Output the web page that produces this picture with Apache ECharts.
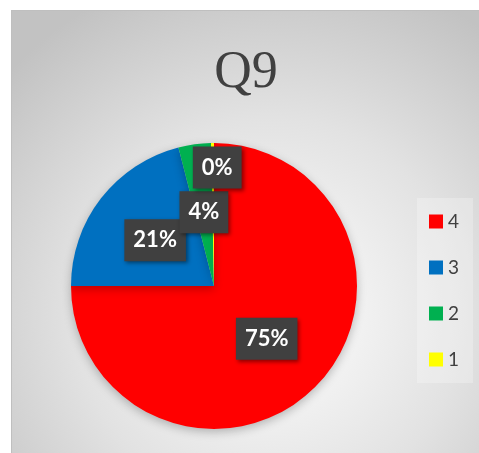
<!DOCTYPE html>
<html>
<head>
<meta charset="utf-8">
<script src="https://cdn.jsdelivr.net/npm/echarts@6/dist/echarts.min.js"></script>
<style>
html, body { margin: 0; padding: 0; background: #fff; }
#chart-q9 {
  position: absolute;
  left: 11px;
  top: 10px;
  width: 468px;
  height: 443px;
  border-left: 1px solid #bfbfbf;
  border-top: 1px solid #bfbfbf;
}
</style>
</head>
<body>
<div id='chart-q9'></div>
<script>
// answers to Q9, counts per rating
var categories = ['4', '3', '2', '1']
var counts = [225, 63, 11, 1]
var colors = ['#ff0000', '#0070c0', '#00b050', '#ffff00']

var pieData = []
for (var i = 0; i < categories.length; i++) {
  pieData.push({ name: categories[i], value: counts[i], itemStyle: { color: colors[i] } })
}
// the tiny slice has its label pushed outwards
pieData[3].label = { offset: [4, -44] }

var option = {
  backgroundColor: {
    type: 'radial',
    x: 0.55,
    y: 0.68,
    r: 0.8,
    colorStops: [
      { offset: 0, color: '#ffffff' },
      { offset: 0.55, color: '#e2e2e2' },
      { offset: 1, color: '#c2c2c2' }
    ]
  },
  title: {
    text: 'Q9',
    left: 'center',
    top: 31,
    textStyle: {
      fontFamily: 'Liberation Serif',
      fontWeight: 'normal',
      fontSize: 52,
      color: '#404040'
    }
  },
  legend: {
    orient: 'vertical',
    left: 405,
    top: 187,
    padding: [14, 14, 14, 12],
    backgroundColor: 'rgba(255,255,255,0.25)',
    itemWidth: 14,
    itemHeight: 14,
    itemGap: 27,
    icon: 'rect',
    data: categories,
    textStyle: {
      fontFamily: 'Lato',
      fontSize: 19,
      lineHeight: 18,
      color: '#404040'
    }
  },
  series: [
    {
      name: 'Q9',
      type: 'pie',
      center: [202, 275],
      radius: [0, 143],
      startAngle: 90,
      clockwise: true,
      avoidLabelOverlap: false,
      labelLayout: { hideOverlap: false },
      itemStyle: {
        shadowBlur: 10,
        shadowColor: 'rgba(0,0,0,0.25)',
        shadowOffsetY: 3
      },
      emphasis: { disabled: true },
      label: {
        show: true,
        position: 'inside',
        formatter: function (params) {
          return Math.round(params.percent) + '%'
        },
        fontFamily: 'Lato',
        fontWeight: 'bold',
        fontSize: 22,
        lineHeight: 22,
        color: '#ffffff',
        backgroundColor: '#404040',
        padding: [10, 9, 10, 9],
        shadowBlur: 4,
        shadowColor: 'rgba(0,0,0,0.45)',
        shadowOffsetX: 2,
        shadowOffsetY: 2
      },
      labelLine: { show: false },
      data: pieData
    }
  ]
}

var chart = echarts.init(document.getElementById('chart-q9'))
chart.setOption(option)
</script>
</body>
</html>
